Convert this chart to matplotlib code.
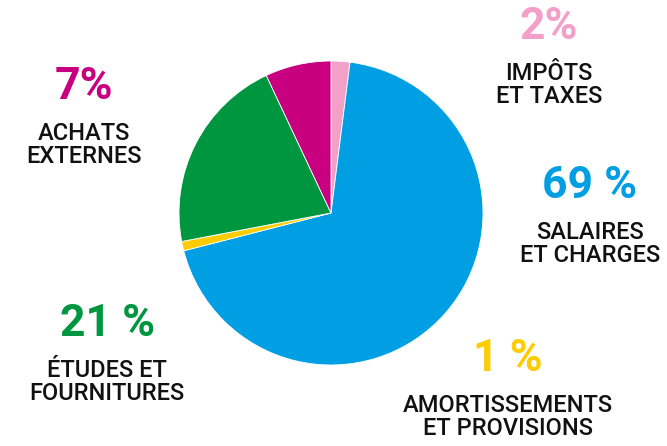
import matplotlib
matplotlib.use("Agg")
import matplotlib.pyplot as plt

# slices clockwise from 12 o'clock
labels = ["IMPÔTS\nET TAXES", "SALAIRES\nET CHARGES", "AMORTISSEMENTS\nET PROVISIONS",
          "ÉTUDES ET\nFOURNITURES", "ACHATS\nEXTERNES"]
pct_labels = ["2%", "69 %", "1 %", "21 %", "7%"]
values = [2, 69, 1, 21, 7]
colors = ["#F3A0C9", "#009FE3", "#FFCC00", "#009640", "#C8007F"]

# label anchor positions in pixel coords (x, y from top)
label_pos = [(549, 28), (590, 187), (508, 360), (107, 325), (84, 88)]

W, H = 667, 446
fig = plt.figure(figsize=(W / 100, H / 100), dpi=100)
ax = fig.add_axes([0, 0, 1, 1])

ax.pie(values, colors=colors, startangle=90, counterclock=False,
       center=(331, H - 213), radius=152, frame=True,
       wedgeprops=dict(edgecolor="white", linewidth=0.6))
ax.set_xlim(0, W)
ax.set_ylim(0, H)
ax.axis("off")

font = "Roboto"
for lab, pct, col, (x, y) in zip(labels, pct_labels, colors, label_pos):
    ax.text(x, H - y + 1, pct, color=col, fontsize=32, fontweight="bold",
            family=font, ha="center", va="center")
    ax.text(x, H - y - 57, lab, color="#111111", fontsize=17, fontweight="medium",
            family=font, ha="center", va="center", linespacing=1.0)

fig.savefig("out.png", dpi=100)
